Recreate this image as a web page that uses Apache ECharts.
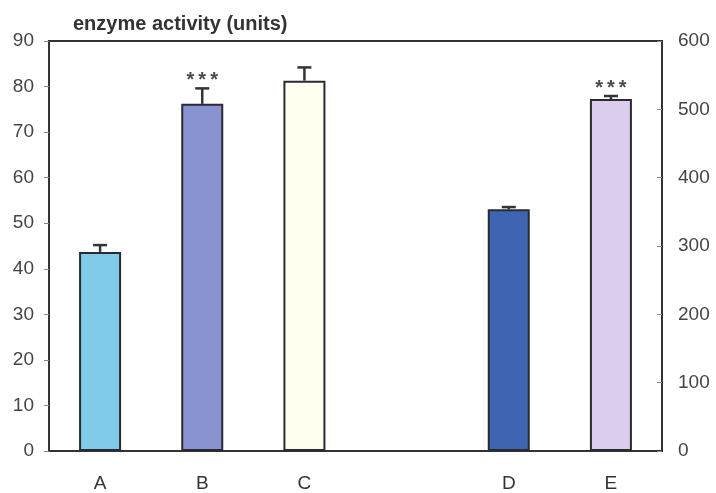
<!DOCTYPE html>
<html>
<head>
<meta charset="utf-8">
<script src="https://cdn.jsdelivr.net/npm/echarts@6/dist/echarts.min.js"></script>
<style>
  html, body { margin: 0; padding: 0; background: #fff; }
  #chart { width: 716px; height: 493px; }
</style>
</head>
<body>
<div id="chart"></div>
<script>
// Category slots along the x axis (the blank slot separates the two groups)
const categories = ['A', 'B', 'C', '', 'D', 'E'];

// Groups plotted against the left axis (0–90)
const leftGroups = ['A', 'B', 'C'];
const leftMeans = [43.7, 76.2, 81.3];
const leftErrors = [1.5, 3.4, 2.9];
const leftSignif = ['', '*\u2009*\u2009*', ''];

// Groups plotted against the right axis (0–600)
const rightGroups = ['D', 'E'];
const rightMeans = [353.7, 515];
const rightErrors = [3.3, 4.5];
const rightSignif = ['', '*\u2009*\u2009*'];

// Axis tick settings
const leftAxisMax = 90, leftAxisStep = 10;
const rightAxisMax = 600, rightAxisStep = 100;

const barColors = {
  A: '#80cbea',
  B: '#8892d0',
  C: '#fffff0',
  D: '#3f64b2',
  E: '#dacdee'
};

const fontFamily = '"Liberation Sans", Arial, sans-serif';

function barData(groups, means) {
  return groups.map((g, i) => ({
    value: [categories.indexOf(g), means[i]],
    itemStyle: { color: barColors[g] }
  }));
}

function errData(groups, means, errs) {
  return groups.map((g, i) => [categories.indexOf(g), means[i], errs[i]]);
}

function starsFor(params) {
  const list = params.seriesIndex === 2 ? leftSignif : rightSignif;
  return list[params.dataIndex] || '';
}

// Error bar (stem + cap) with an optional significance marker above it
function renderError(params, api) {
  const x = api.value(0);
  const mean = api.value(1);
  const err = api.value(2);
  const star = starsFor(params);
  const base = api.coord([x, mean]);
  const top = api.coord([x, mean + err]);
  const half = 7;
  const children = [
    { type: 'line', shape: { x1: base[0], y1: base[1], x2: top[0], y2: top[1] },
      style: { stroke: '#333338', lineWidth: 2.5 } },
    { type: 'line', shape: { x1: top[0] - half, y1: top[1], x2: top[0] + half, y2: top[1] },
      style: { stroke: '#333338', lineWidth: 2.5 } }
  ];
  if (star) {
    children.push({
      type: 'text',
      style: {
        x: top[0], y: top[1] - 8, text: star,
        fill: '#4a4a4a', font: 'bold 20px ' + fontFamily,
        align: 'center', verticalAlign: 'middle'
      }
    });
  }
  return { type: 'group', children };
}

const chart = echarts.init(document.getElementById('chart'), null, { renderer: 'canvas' });

chart.setOption({
  animation: false,
  backgroundColor: '#ffffff',
  title: {
    text: 'enzyme activity (units)',
    left: 68,
    top: 9,
    textStyle: { fontFamily, fontWeight: 'bold', fontSize: 20, color: '#333' }
  },
  grid: {
    left: 49, right: 54, top: 41, bottom: 40,
    show: true, borderColor: '#333', borderWidth: 2, backgroundColor: 'transparent'
  },
  xAxis: {
    type: 'category',
    data: categories,
    axisLine: { lineStyle: { color: '#333', width: 2 } },
    axisTick: { show: false },
    axisLabel: { color: '#333', fontFamily, fontSize: 19, margin: 23 },
    splitLine: { show: false }
  },
  yAxis: [
    {
      type: 'value', position: 'left', min: 0, max: leftAxisMax, interval: leftAxisStep,
      axisLine: { show: true, lineStyle: { color: '#333', width: 2 } },
      axisTick: { show: true, length: 5, lineStyle: { color: '#888', width: 1 } },
      axisLabel: { color: '#444', fontFamily, fontSize: 19, margin: 15 },
      splitLine: { show: false }
    },
    {
      type: 'value', position: 'right', min: 0, max: rightAxisMax, interval: rightAxisStep,
      axisLine: { show: true, lineStyle: { color: '#333', width: 2 } },
      axisTick: { show: true, inside: true, length: 5, lineStyle: { color: '#888', width: 1 } },
      axisLabel: { color: '#444', fontFamily, fontSize: 19, margin: 16 },
      splitLine: { show: false }
    }
  ],
  series: [
    {
      type: 'bar', yAxisIndex: 0, barWidth: 42, barGap: '-100%',
      itemStyle: { borderColor: '#2a2a33', borderWidth: 2 },
      data: barData(leftGroups, leftMeans), z: 2
    },
    {
      type: 'bar', yAxisIndex: 1, barWidth: 42, barGap: '-100%',
      itemStyle: { borderColor: '#2a2a33', borderWidth: 2 },
      data: barData(rightGroups, rightMeans), z: 2
    },
    {
      type: 'custom', yAxisIndex: 0, renderItem: renderError, z: 3,
      data: errData(leftGroups, leftMeans, leftErrors)
    },
    {
      type: 'custom', yAxisIndex: 1, renderItem: renderError, z: 3,
      data: errData(rightGroups, rightMeans, rightErrors)
    }
  ]
});
</script>
</body>
</html>
